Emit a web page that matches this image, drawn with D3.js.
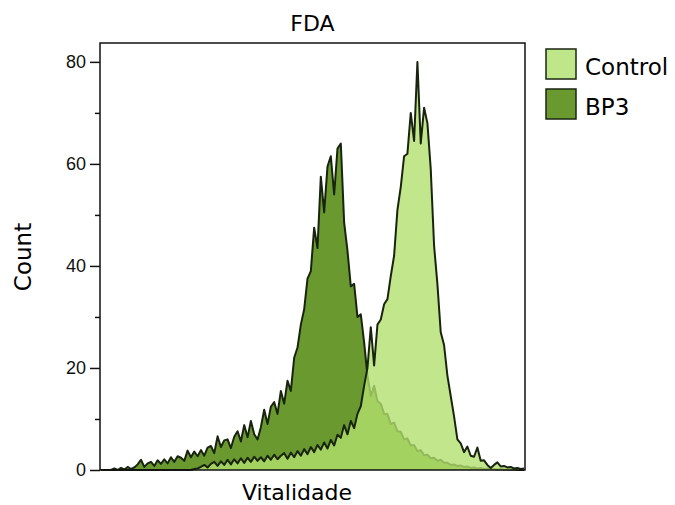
<!DOCTYPE html>
<html>
<head>
<meta charset="utf-8">
<script src="https://cdn.jsdelivr.net/npm/d3@7"></script>
<style>
  body { margin: 0; background: white; }
  text { font-family: "DejaVu Sans", sans-serif; }
</style>
</head>
<body>
<div id="main_content"></div>
<script>
var width = 675, height = 505;

// histogram channels (0..127) along the Vitalidade axis
var bp3Counts = [
  0, 0, 0, 0, 0.3, 0, 0.4, 0.1, 0.6, 0.2, 0.5, 1.1,
  2.0, 0.6, 1.3, 1.6, 0.8, 1.9, 1.2, 2.1, 1.3, 2.5, 1.6, 2.7,
  2.4, 1.8, 3.8, 2.5, 3.6, 2.7, 3.9, 2.8, 4.4, 4.7, 3.3, 6.6,
  4.5, 5.8, 6.0, 4.3, 6.5, 7.6, 5.6, 8.8, 6.4, 9.6, 7.0, 6.0,
  8.4, 11.8, 9.0, 12.4, 13.3, 11.0, 15.5, 13.0, 17.5, 15.5, 22.0, 24.0,
  28.5, 31.5, 37.5, 39.0, 47.5, 43.5, 57.5, 50.5, 59.5, 61.5, 54.0, 63.0,
  64.0, 48.5, 43.0, 36.0, 36.5, 30.0, 30.5, 25.0, 18.5, 14.5, 16.5, 13.5,
  13.0, 11.0, 11.0, 9.0, 9.3, 7.6, 7.5, 6.0, 6.2, 4.8, 4.9, 3.7,
  3.9, 2.9, 3.0, 2.3, 2.4, 1.8, 2.0, 1.4, 1.4, 1.0, 1.1, 0.8,
  0.9, 0.6, 0.7, 0.4, 0.5, 0.3, 0.4, 0.2, 0.3, 0.2, 0.2, 0.1,
  0.2, 0.1, 0.1, 0.1, 0.1, 0, 0, 0
];
var controlCounts = [
  0, 0, 0, 0, 0, 0, 0, 0, 0, 0, 0, 0,
  0, 0, 0, 0, 0, 0, 0, 0, 0, 0, 0, 0,
  0, 0, 0, 0, 0.2, 0.3, 0.6, 1.0, 0.5, 1.2, 1.6, 0.8,
  1.7, 1.0, 2.0, 1.1, 2.1, 1.3, 2.3, 1.4, 2.4, 1.6, 2.6, 1.8,
  2.5, 1.7, 2.8, 2.0, 3.0, 2.1, 2.8, 3.3, 2.2, 3.4, 2.5, 3.7,
  2.8, 4.1, 3.1, 4.5, 3.5, 4.9, 4.0, 5.4, 4.2, 5.9, 4.8, 6.9,
  6.3, 8.8, 7.0, 9.6, 8.2, 11.0, 12.5, 16.5, 20.0, 28.0, 20.5, 28.5,
  29.5, 32.5, 33.5, 38.0, 42.0, 51.0, 55.5, 61.5, 62.0, 70.0, 64.5, 80.0,
  64.0, 71.0, 68.0, 59.0, 44.0, 36.5, 27.0, 24.5, 18.5, 14.5, 10.5, 6.0,
  5.2, 3.5, 4.6, 2.8, 2.6, 4.4, 1.8, 1.9, 1.0, 0.4, 1.0, 1.5,
  0.7, 0.8, 0.5, 0.6, 0.3, 0.4, 0.2, 0.3
];
var yTicks = [0, 20, 40, 60, 80];
var yMinorTicks = [10, 30, 50, 70];
var legendLabels = ['Control', 'BP3'];

var margin = {left: 100, right: 150, top: 43, bottom: 35};
var x0 = margin.left, x1 = width - margin.right, y0 = height - margin.bottom, y1 = margin.top;

var svg = d3.select('#main_content').append('svg')
  .attr('width', width)
  .attr('height', height)
  .style('background', 'white');

var x = d3.scaleLinear().domain([0, 127]).range([x0 + 1, x1 - 1]);
var y = d3.scaleLinear().domain([0, 83.7]).range([y0, y1]);

var area = d3.area()
  .x(function(d, i) { return x(i); })
  .y0(y(0))
  .y1(function(d) { return y(d); });
var line = d3.line()
  .x(function(d, i) { return x(i); })
  .y(function(d) { return y(d); });

// BP3 underneath, Control fill drawn over it, a bit see-through
svg.append('path').datum(bp3Counts)
  .attr('d', area)
  .attr('fill', '#6a9a2f');
svg.append('path').datum(bp3Counts)
  .attr('d', line)
  .attr('fill', 'none')
  .attr('stroke', '#18240e')
  .attr('stroke-width', 2)
  .attr('stroke-linejoin', 'round');

svg.append('path').datum(controlCounts)
  .attr('d', area)
  .attr('fill', '#b3e06e')
  .attr('fill-opacity', 0.8);
svg.append('path').datum(controlCounts)
  .attr('d', line)
  .attr('fill', 'none')
  .attr('stroke', '#18240e')
  .attr('stroke-width', 2)
  .attr('stroke-linejoin', 'round');

// frame
svg.append('rect')
  .attr('x', x0).attr('y', y1)
  .attr('width', x1 - x0).attr('height', y0 - y1)
  .attr('fill', 'none')
  .attr('stroke', '#111')
  .attr('stroke-width', 1.5);

var yAxis = svg.append('g')
  .attr('transform', 'translate(' + x0 + ',0)')
  .call(d3.axisLeft(y).tickValues(yTicks).tickSize(10).tickPadding(4));
yAxis.select('.domain').remove();
yAxis.selectAll('line').attr('stroke', '#111').attr('stroke-width', 1.5);
yAxis.selectAll('text')
  .style('font-family', '"Liberation Sans", sans-serif')
  .style('font-size', '18px')
  .attr('fill', '#111');

svg.append('g')
  .attr('transform', 'translate(' + x0 + ',0)')
  .call(d3.axisLeft(y).tickValues(yMinorTicks).tickSize(5).tickFormat(''))
  .call(function(g) { g.select('.domain').remove(); })
  .selectAll('line').attr('stroke', '#111').attr('stroke-width', 1.5);

svg.append('text')
  .attr('x', (x0 + x1) / 2).attr('y', 31)
  .attr('text-anchor', 'middle')
  .style('font-size', '22px')
  .text('FDA');

svg.append('text')
  .attr('x', 297).attr('y', 500)
  .attr('text-anchor', 'middle')
  .style('font-size', '22px')
  .text('Vitalidade');

svg.append('text')
  .attr('transform', 'translate(31,257) rotate(-90)')
  .attr('text-anchor', 'middle')
  .style('font-size', '23px')
  .text('Count');

var legendColors = ['#bfe689', '#6a9a2f'];
var legend = svg.selectAll('.legend')
  .data(legendLabels)
  .enter().append('g')
  .attr('transform', function(d, i) { return 'translate(546,' + (49 + i * 40) + ')'; });
legend.append('rect')
  .attr('width', 30).attr('height', 30)
  .attr('fill', function(d, i) { return legendColors[i]; })
  .attr('stroke', '#1a2610')
  .attr('stroke-width', 1.5);
legend.append('text')
  .attr('x', 39).attr('y', 26)
  .style('font-size', '23px')
  .text(function(d) { return d; });
</script>
</body>
</html>
